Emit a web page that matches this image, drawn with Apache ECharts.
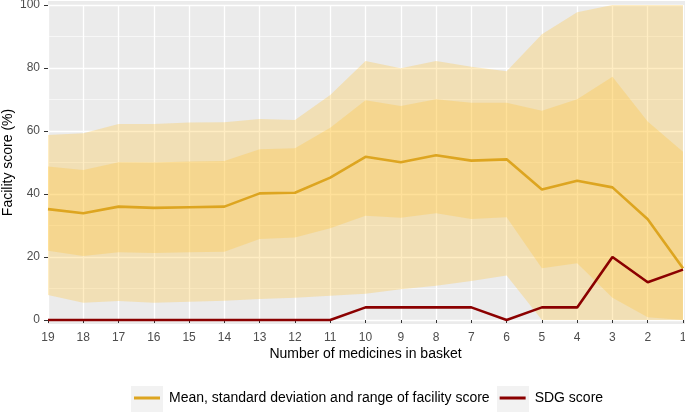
<!DOCTYPE html>
<html>
<head>
<meta charset="utf-8">
<script src="https://cdn.jsdelivr.net/npm/echarts@6/dist/echarts.min.js"></script>
<style>
  html, body { margin: 0; padding: 0; background: #fff; }
  #chart { width: 685px; height: 414px; }
</style>
</head>
<body>
<div id="chart"></div>
<script>
// number of medicines in basket, left to right
const categories = ['19', '18', '17', '16', '15', '14', '13', '12', '11', '10', '9', '8', '7', '6', '5', '4', '3', '2', '1']

const meanScore = [35.2, 33.9, 36.0, 35.6, 35.8, 36.0, 40.2, 40.4, 45.2, 51.8, 50.1, 52.3, 50.6, 51.0, 41.4, 44.2, 42.1, 32.0, 16.4]
const sdUpper = [48.7, 47.6, 50.1, 50.0, 50.3, 50.5, 54.2, 54.5, 61.0, 69.8, 67.9, 70.1, 69.0, 69.0, 66.4, 70.1, 77.2, 63.0, 53.4]
const sdLower = [22.0, 20.3, 21.5, 21.3, 21.5, 21.7, 25.7, 26.2, 29.1, 33.1, 32.5, 33.9, 32.1, 32.6, 16.4, 18.0, 7.1, 0.9, 0]
const rangeMax = [58.7, 59.3, 62.2, 62.2, 62.7, 62.8, 63.8, 63.5, 71.4, 82.2, 79.9, 82.2, 80.4, 79.0, 90.7, 97.7, 100, 100, 100]
const rangeMin = [7.9, 5.5, 6.0, 5.5, 5.8, 6.1, 6.7, 7.1, 7.7, 8.3, 9.8, 10.9, 12.4, 14.1, 0, 0, 0, 0, 0]
const sdgScore = [0, 0, 0, 0, 0, 0, 0, 0, 0, 4, 4, 4, 4, 0, 4, 4, 20, 12, 16]

const yTicks = [0, 20, 40, 60, 80, 100]

const meanName = 'Mean, standard deviation and range of facility score'
const sdgName = 'SDG score'
const bandColor = 'rgba(255, 196, 56, 0.3)'
const font = '"Liberation Sans", Arial, sans-serif'

// stacked bands: invisible base + visible thickness
function band(stack, lower, upper) {
    const thick = upper.map((u, i) => +(u - lower[i]).toFixed(2))
    return [
        {
            type: 'line', stack, data: lower, symbol: 'none', silent: true,
            lineStyle: { opacity: 0 }, clip: false, z: 1
        },
        {
            type: 'line', stack, data: thick, symbol: 'none', silent: true,
            lineStyle: { opacity: 0 }, areaStyle: { color: bandColor, opacity: 1 }, clip: false, z: 1
        }
    ]
}

const chart = echarts.init(document.getElementById('chart'))
chart.setOption({
    animation: false,
    textStyle: { fontFamily: font },
    grid: { left: 48, right: 2, top: 5, bottom: 94, containLabel: false, outerBoundsMode: 'none' },
    graphic: [
        // panel background (slightly expanded like ggplot)
        { type: 'rect', z: -10, shape: { x: 48, y: 1, width: 637, height: 323 }, style: { fill: '#EBEBEB' } },
        // legend key backgrounds
        { type: 'rect', z: -10, shape: { x: 131, y: 386, width: 32, height: 26 }, style: { fill: '#F2F2F2' } },
        { type: 'rect', z: -10, shape: { x: 497, y: 386, width: 32, height: 26 }, style: { fill: '#F2F2F2' } }
    ],
    legend: {
        data: [meanName, sdgName],
        left: 134,
        top: 391,
        padding: 0,
        icon: 'rect',
        itemWidth: 26,
        itemHeight: 3,
        itemGap: 10,
        selectedMode: false,
        textStyle: { fontSize: 14, color: '#000', fontFamily: font, padding: [0, 0, 0, 4] }
    },
    xAxis: {
        type: 'category',
        data: categories,
        boundaryGap: false,
        offset: 4,
        name: 'Number of medicines in basket',
        nameLocation: 'middle',
        nameGap: 23,
        nameMoveOverlap: false,
        nameTextStyle: { fontSize: 14, color: '#000' },
        axisLine: { show: false },
        axisTick: { show: true, length: 3, lineStyle: { color: '#333', width: 1 } },
        axisLabel: { fontSize: 12, color: '#4D4D4D', margin: 8 },
        splitLine: { show: true, lineStyle: { color: '#fff', width: 1.3 } }
    },
    yAxis: {
        type: 'value',
        min: 0,
        max: 100,
        interval: 20,
        name: 'Facility score (%)',
        nameLocation: 'middle',
        nameGap: 33,
        nameMoveOverlap: false,
        nameRotate: 90,
        nameTextStyle: { fontSize: 14, color: '#000' },
        axisLine: { show: false },
        axisTick: { show: true, length: 4, lineStyle: { color: '#333', width: 1 } },
        axisLabel: {
            fontSize: 12, color: '#4D4D4D', margin: 8,
            formatter: v => (yTicks.includes(v) ? String(v) : '')
        },
        splitLine: { show: true, lineStyle: { color: '#fff', width: 1.3 } },
        minorTick: { show: false, splitNumber: 2 },
        minorSplitLine: { show: true, lineStyle: { color: '#fff', width: 0.6 } }
    },
    series: [
        ...band('range', rangeMin, rangeMax),
        ...band('sd', sdLower, sdUpper),
        {
            name: meanName,
            type: 'line',
            data: meanScore,
            symbol: 'none',
            color: '#DDA520',
            lineStyle: { color: '#DDA520', width: 2.6 },
            clip: false,
            z: 3
        },
        {
            name: sdgName,
            type: 'line',
            data: sdgScore,
            symbol: 'none',
            color: '#8B0000',
            lineStyle: { color: '#8B0000', width: 2.6 },
            clip: false,
            z: 4
        }
    ]
})
</script>
</body>
</html>
